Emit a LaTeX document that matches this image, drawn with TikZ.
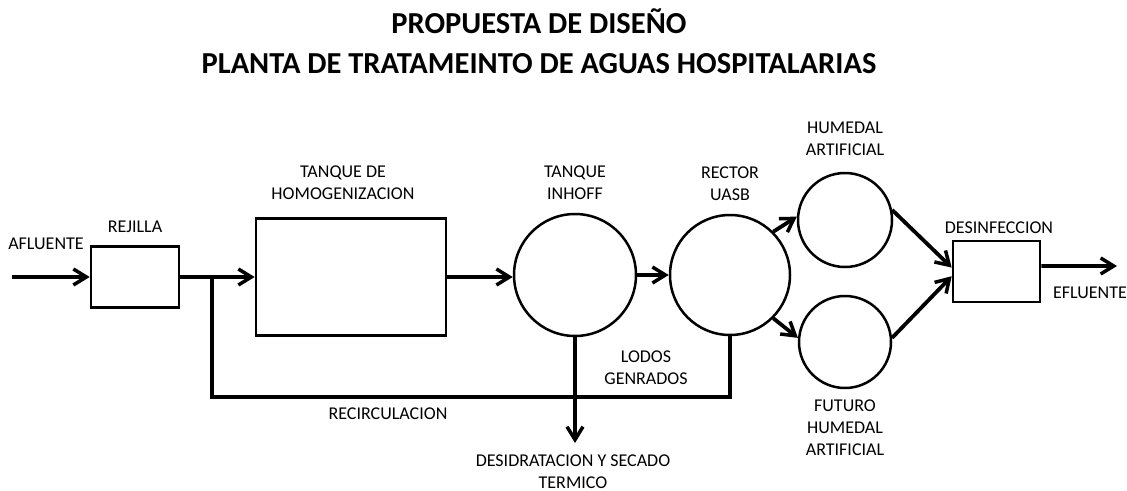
\documentclass[tikz,border=0pt]{standalone}
\usepackage{fontspec}
\setmainfont{Carlito}
\usetikzlibrary{arrows.meta}
\begin{document}
\begin{tikzpicture}[x=1pt,y=-1pt,
 lbl/.style={font=\fontsize{18}{22}\selectfont, align=center, inner sep=0pt},
 ttl/.style={font=\fontsize{30.5}{40}\selectfont\bfseries, inner sep=0pt, anchor=base},
 blk/.style={draw, line width=2.6pt, inner sep=0pt},
 tank/.style={draw, circle, line width=2.5pt, inner sep=0pt},
 flow/.style={line width=3.8pt, -{Straight Barb[length=13pt,width=16pt,line width=3.5pt]}},
 pipe/.style={line width=3.8pt, line join=miter}]
\useasboundingbox (0,0) rectangle (1127,490);
% title
\node[ttl] (t1) at (539,33) {PROPUESTA DE DISEÑO};
\node[ttl] (t2) at (539,73) {PLANTA DE TRATAMEINTO DE AGUAS HOSPITALARIAS};
% blocks
\node[blk, minimum width=88pt, minimum height=61pt] (rej) at (135,277) {};
\node[blk, minimum width=190pt, minimum height=117pt] (homog) at (351,277) {};
\node[tank, minimum size=122pt] (inhoff) at (575,275) {};
\node[tank, minimum size=120pt] (uasb) at (730,275) {};
\node[tank, minimum size=94pt] (hum) at (845,220) {};
\node[tank, minimum size=92pt] (fut) at (845,342) {};
\node[blk, minimum width=87pt, minimum height=61pt] (des) at (996.5,271.5) {};
% labels
\node[lbl] (lafl) at (46,244) {AFLUENTE};
\node[lbl] (lrej) at (135,227) {REJILLA};
\node[lbl] (lhom) at (343,183) {TANQUE DE\\HOMOGENIZACION};
\node[lbl] (linh) at (575,183) {TANQUE\\INHOFF};
\node[lbl] (luas) at (730,184) {RECTOR\\UASB};
\node[lbl] (lhum) at (845,139) {HUMEDAL\\ARTIFICIAL};
\node[lbl] (lfut) at (845,428) {FUTURO\\HUMEDAL\\ARTIFICIAL};
\node[lbl] (ldes) at (999,228) {DESINFECCION};
\node[lbl] (lefl) at (1090,293) {EFLUENTE};
\node[lbl] (llod) at (646,368) {LODOS\\GENRADOS};
\node[lbl] (lrec) at (388,414) {RECIRCULACION};
\node[lbl] (ldry) at (573,472) {DESIDRATACION Y SECADO\\TERMICO};
% coordinates
\coordinate (in) at (12,277);
\coordinate (br) at (212,277);
\coordinate (rc) at (212,397);
\coordinate (dry) at (575,443);
\coordinate (out) at (1117,266);
% connectors
\draw[flow] (in) -- (rej.west);
\draw[flow] (rej.east) -- (homog.west);
\draw[pipe] (uasb.south) |- (rc) -- (br);
\draw[flow] (homog.east) -- (inhoff.west |- homog.east);
\draw[flow] (inhoff.east) -- (uasb.west);
\draw[flow] (inhoff.south) -- (dry);
\draw[flow] (uasb.45) -- (hum.176);
\draw[flow] (uasb.-45) -- (fut.175);
\draw[flow] (hum.12) -- (des.175);
\draw[flow] (fut.5) -- (des.186);
\draw[flow] (des.7) -- (out);
\end{tikzpicture}
\end{document}
